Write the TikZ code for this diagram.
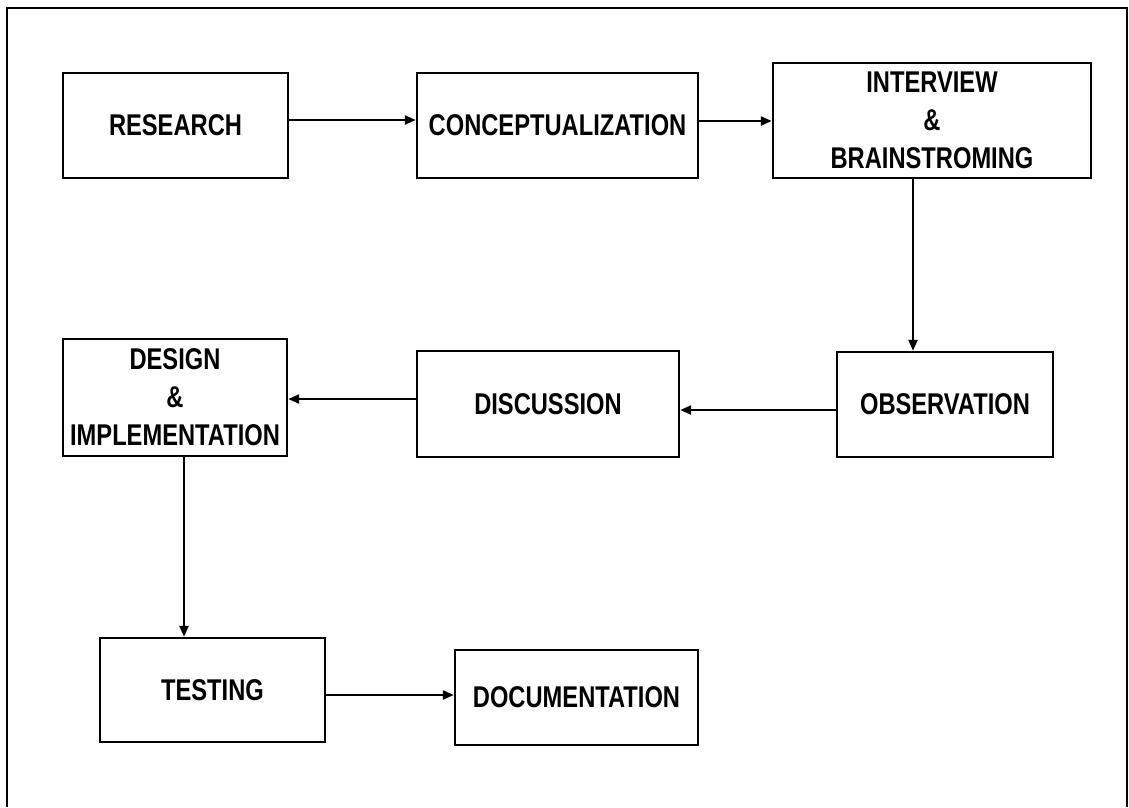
\documentclass[tikz,border=0pt]{standalone}
\usepackage{fontspec}
\setmainfont{Liberation Sans}[FakeStretch=0.79]
\usetikzlibrary{arrows.meta}

\begin{document}
\begin{tikzpicture}[x=1pt, y=-1pt,
  stagebox/.style={draw, line width=2.4pt, align=center, inner sep=0pt,
    font=\fontsize{30}{38}\selectfont\bfseries},
  flow/.style={line width=2.2pt, -{Triangle[length=11pt,width=9pt]}},
  frameline/.style={line width=2.6pt}]

  \useasboundingbox (0,0) rectangle (1129,807);

  % outer border, open at the bottom
  \draw[frameline] (7,807) -- (7,8) -- (1127,8) -- (1127,807);

  % process stages
  \node[stagebox, minimum width=225pt, minimum height=105pt] (research)  at (175.5,125.5) {RESEARCH};
  \node[stagebox, minimum width=281pt, minimum height=105pt] (concept)   at (557.5,125.5) {CONCEPTUALIZATION};
  \node[stagebox, minimum width=318pt, minimum height=115pt] (interview) at (932,120.5)   {INTERVIEW\\\&\\BRAINSTROMING};
  \node[stagebox, minimum width=216pt, minimum height=105pt] (observe)   at (945,404.5)   {OBSERVATION};
  \node[stagebox, minimum width=262pt, minimum height=106pt] (discuss)   at (548,404)     {DISCUSSION};
  \node[stagebox, minimum width=224pt, minimum height=117pt] (design)    at (175,397.5)   {DESIGN\\\&\\IMPLEMENTATION};
  \node[stagebox, minimum width=225pt, minimum height=104pt] (testing)   at (212.5,690)   {TESTING};
  \node[stagebox, minimum width=243pt, minimum height=95pt]  (docs)      at (576.5,697.5) {DOCUMENTATION};

  % connectors
  \draw[flow] ([yshift=5.5pt]research.east)  coordinate (a1) -- (a1 -| concept.west);
  \draw[flow] ([yshift=4.5pt]concept.east)   coordinate (a2) -- (a2 -| interview.west);
  \draw[flow] ([xshift=-19pt]interview.south) coordinate (a3) -- (a3 |- observe.north);
  \draw[flow] ([yshift=-5.5pt]observe.west)  coordinate (a4) -- (a4 -| discuss.east);
  \draw[flow] ([yshift=5pt]discuss.west)     coordinate (a5) -- (a5 -| design.east);
  \draw[flow] ([xshift=9pt]design.south)     coordinate (a6) -- (a6 |- testing.north);
  \draw[flow] ([yshift=-5pt]testing.east)    coordinate (a7) -- (a7 -| docs.west);
\end{tikzpicture}
\end{document}
